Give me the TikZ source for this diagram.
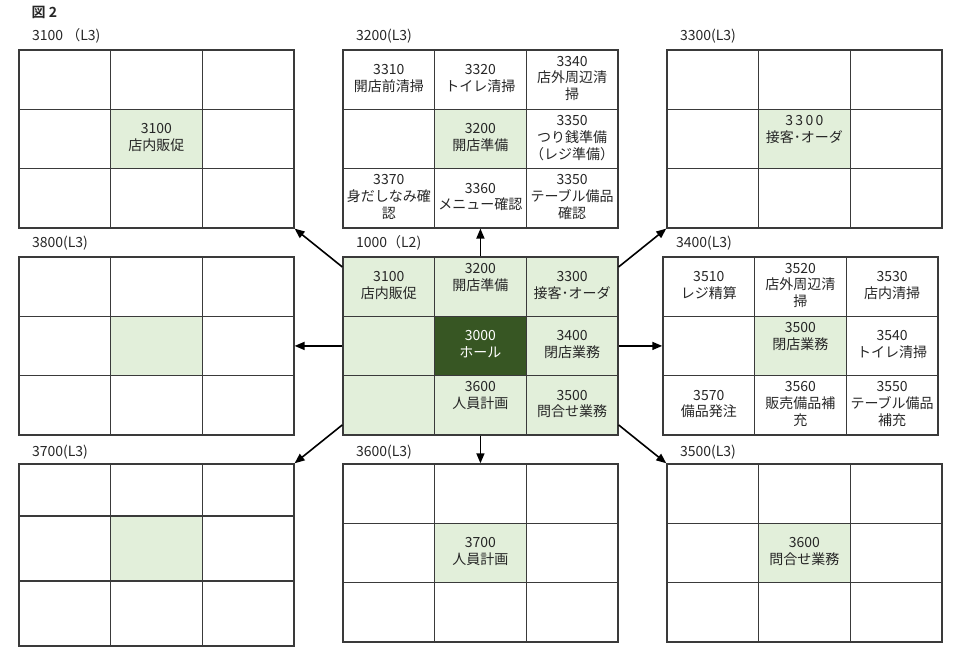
\documentclass[tikz,border=0pt]{standalone}
\usepackage{fontspec}
\setmainfont{Noto Sans CJK JP}[BoldFont={Noto Sans CJK JP Bold}]
\usetikzlibrary{matrix, positioning, arrows.meta}
\definecolor{lgreen}{HTML}{E2EFDA}
\definecolor{dgreen}{HTML}{375623}
\definecolor{linegray}{HTML}{3A3A3A}
\definecolor{txtgray}{HTML}{262626}
\newcommand{\ctext}[1]{\begin{tabular}{@{}c@{}}#1\end{tabular}}
\tikzset{
	cellgrid/.style={matrix of nodes, nodes in empty cells, anchor=north west, inner sep=0pt,
		nodes={draw=linegray, line width=1pt, minimum width=68.75pt, minimum height=44.5pt,
			anchor=center, inner sep=1pt, text=txtgray,
			font=\fontsize{10.5}{12.5}\selectfont},
		column sep=-1pt, row sep=-1pt},
	sel/.style={fill=lgreen},
	hall/.style={fill=dgreen, text=white},
	lbl/.style={anchor=base west, text=txtgray, font=\fontsize{10.5}{12}\selectfont},
	arr/.style={-{Triangle[length=7.5pt,width=6pt]}, line width=1.2pt}
}

\begin{document}
\begin{tikzpicture}[x=0.75pt, y=-0.75pt]
	\useasboundingbox (0,0) rectangle (960,652);
	\node[lbl, font=\bfseries\fontsize{10.5}{12}\selectfont] (fig) at (27,18) {図 2};

	% L3 grids, top row
	\matrix (m3100) [cellgrid] at (18,49) {
		& & \\
		& |[sel]| \ctext{3100\\店内販促} & \\
		& & \\
	};
	\matrix (m3200) [cellgrid] at (342,49) {
		\ctext{3310\\開店前清掃} & \ctext{3320\\トイレ清掃} & \ctext{3340\\店外周辺清\\掃} \\
		& |[sel]| \ctext{3200\\開店準備} & \ctext{3350\\つり銭準備\\（レジ準備）} \\
		\ctext{3370\\身だしなみ確\\認} & \ctext{3360\\メニュー確認} & \ctext{3350\\テーブル備品\\確認} \\
	};
	\matrix (m3300) [cellgrid] at (666,49) {
		& & \\
		& |[sel]| \ctext{3\,3\,0\,0\\接客･オーダ\\~} & \\
		& & \\
	};

	% L2 grid and its neighbours
	\matrix (m3800) [cellgrid] at (18,256) {
		& & \\
		& |[sel]| & \\
		& & \\
	};
	\matrix (m1000) [cellgrid] at (342,256) {
		|[sel]| \ctext{3100\\店内販促} & |[sel]| \ctext{3200\\開店準備\\~} & |[sel]| \ctext{3300\\接客･オーダ} \\
		|[sel]| & |[hall]| \ctext{3000\\ホール} & |[sel]| \ctext{3400\\閉店業務} \\
		|[sel]| & |[sel]| \ctext{3600\\人員計画\\~} & |[sel]| \ctext{3500\\問合せ業務} \\
	};
	\matrix (m3400) [cellgrid] at (662,256) {
		\ctext{3510\\レジ精算} & \ctext{3520\\店外周辺清\\掃} & \ctext{3530\\店内清掃} \\
		& |[sel]| \ctext{3500\\閉店業務\\~} & \ctext{3540\\トイレ清掃} \\
		\ctext{3570\\備品発注} & \ctext{3560\\販売備品補\\充} & \ctext{3550\\テーブル備品\\補充} \\
	};

	% L3 grids, bottom row
	\matrix (m3700) [cellgrid, row 1/.style={nodes={minimum height=39pt}},
		row 2/.style={nodes={minimum height=48.75pt}}, row 3/.style={nodes={minimum height=48.75pt}}] at (18,463) {
		& & \\
		& |[sel]| & \\
		& & \\
	};
	\matrix (m3600) [cellgrid] at (342,463) {
		& & \\
		& |[sel]| \ctext{3700\\人員計画} & \\
		& & \\
	};
	\matrix (m3500) [cellgrid] at (666,463) {
		& & \\
		& |[sel]| \ctext{3600\\問合せ業務} & \\
		& & \\
	};

	\node[lbl] at ([xshift=7pt,yshift=6pt]m3100.north west) {3100 （L3)};
	\node[lbl] at ([xshift=7pt,yshift=6pt]m3200.north west) {3200(L3)};
	\node[lbl] at ([xshift=7pt,yshift=6pt]m3300.north west) {3300(L3)};
	\node[lbl] at ([xshift=7pt,yshift=6pt]m3800.north west) {3800(L3)};
	\node[lbl] at ([xshift=7pt,yshift=6pt]m1000.north west) {1000（L2)};
	\node[lbl] at ([xshift=7pt,yshift=6pt]m3400.north west) {3400(L3)};
	\node[lbl] at ([xshift=7pt,yshift=5pt]m3700.north west) {3700(L3)};
	\node[lbl] at ([xshift=7pt,yshift=5pt]m3600.north west) {3600(L3)};
	\node[lbl] at ([xshift=7pt,yshift=5pt]m3500.north west) {3500(L3)};

	\draw[arr] ([yshift=-8pt]m1000-1-1.north west) -- (m3100-3-3.south east);
	\draw[arr] (m1000-1-2.north) -- (m3200-3-2.south);
	\draw[arr] ([yshift=-8pt]m1000-1-3.north east) -- (m3300-3-1.south west);
	\draw[arr] (m1000-2-1.west) -- (m3800-2-3.east);
	\draw[arr] (m1000-2-3.east) -- (m3400-2-1.west);
	\draw[arr] ([yshift=8pt]m1000-3-1.south west) -- (m3700-1-3.north east);
	\draw[arr] (m1000-3-2.south) -- (m3600-1-2.north);
	\draw[arr] ([yshift=8pt]m1000-3-3.south east) -- (m3500-1-1.north west);
\end{tikzpicture}
\end{document}
